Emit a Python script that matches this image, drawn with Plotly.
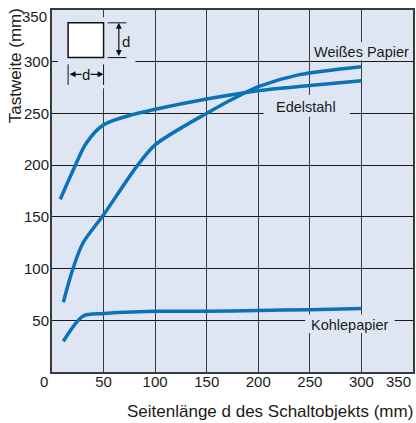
import plotly.graph_objects as go

# ---- data ----
edel_x = [8, 22, 33, 50, 75, 100, 150, 200, 250, 300]
edel_y = [167, 198.5, 221, 239, 248, 254, 264, 272, 277, 281.7]

weiss_x = [11, 20, 30, 50, 82, 100, 150, 189, 200, 240, 300]
weiss_y = [67.5, 99, 124.7, 152, 198.6, 219.6, 250.2, 271, 276, 287.5, 295.2]

kohle_x = [11, 30, 50, 100, 150, 200, 250, 300]
kohle_y = [29.7, 53.9, 56.5, 58.7, 58.7, 59.4, 60.3, 61.3]

x_ticks = [50, 100, 150, 200, 250, 300]
y_ticks = [50, 100, 150, 200, 250, 300]

BG = "#dfe6f3"
BLUE = "#0b72ba"
TXT = "#1a1a1a"
FONT = "Liberation Sans, Arial, Helvetica, sans-serif"

fig = go.Figure()
for xs, ys in [(edel_x, edel_y), (weiss_x, weiss_y), (kohle_x, kohle_y)]:
    fig.add_trace(go.Scatter(x=xs, y=ys, mode="lines",
                             line=dict(color=BLUE, width=3.5, shape="spline", smoothing=0.8),
                             showlegend=False, hoverinfo="skip"))

shapes = []
# masks hiding gridlines (between gridlines and traces)
for x0, x1, y0, y1 in [(5.7, 80.9, 274.4, 343.1),
                       (205.2, 288.8, 246.8, 267.7),
                       (245.5, 332.2, 37.8, 55.5),
                       (254.4, 347, 301.5, 319)]:
    shapes.append(dict(type="rect", xref="x", yref="y", x0=x0, x1=x1, y0=y0, y1=y1,
                       fillcolor=BG, line=dict(width=0), layer="between"))
# inset square
shapes.append(dict(type="rect", xref="x", yref="y", x0=15.6, x1=50, y0=304, y1=337.6,
                   fillcolor="white", line=dict(color="#111", width=1.5), layer="above"))
# extension lines for vertical dimension
for yy in [304, 337.6]:
    shapes.append(dict(type="line", xref="x", yref="y", x0=53.9, x1=72.2, y0=yy, y1=yy,
                       line=dict(color="#111", width=1), layer="above"))
# end ticks for horizontal dimension
for xx in [15.6, 50]:
    shapes.append(dict(type="line", xref="x", yref="y", x0=xx, x1=xx, y0=277.5, y1=297.5,
                       line=dict(color="#111", width=1), layer="above"))

annotations = []
# vertical double arrow
annotations.append(dict(x=64.8, y=337.6, ax=64.8, ay=304, xref="x", yref="y", axref="x", ayref="y",
                        text="", showarrow=True, arrowhead=2, arrowside="end+start",
                        arrowsize=1, arrowwidth=1.2, arrowcolor="#111", standoff=0, startstandoff=0))
# horizontal double arrow
annotations.append(dict(x=50, y=287.8, ax=15.6, ay=287.8, xref="x", yref="y", axref="x", ayref="y",
                        text="", showarrow=True, arrowhead=2, arrowside="end+start",
                        arrowsize=1, arrowwidth=1.2, arrowcolor="#111", standoff=0, startstandoff=0))
annotations.append(dict(x=33.0, y=287.8, xref="x", yref="y", text="d", showarrow=False,
                        font=dict(size=15, color=TXT, family=FONT), bgcolor=BG, borderpad=0))
annotations.append(dict(x=71.5, y=319.5, xref="x", yref="y", text="d", showarrow=False,
                        font=dict(size=15, color=TXT, family=FONT)))
# series labels
for txt, xx, yy in [("Weißes Papier", 300.1, 309.7),
                    ("Edelstahl", 246.5, 256),
                    ("Kohlepapier", 288.9, 45.2)]:
    annotations.append(dict(x=xx, y=yy, xref="x", yref="y", text=txt, showarrow=False,
                            font=dict(size=14.5, color=TXT, family=FONT)))
# origin label, x 350 label and y 350 label (paper coords)
tick_font = dict(size=15, color=TXT, family=FONT)
annotations.append(dict(x=-0.022, y=-0.0254, xref="paper", yref="paper", text="0",
                        showarrow=False, xanchor="center", yanchor="middle", font=tick_font))
annotations.append(dict(x=1.0, y=-0.0254, xref="paper", yref="paper", text="350",
                        showarrow=False, xanchor="right", yanchor="middle", font=tick_font))
annotations.append(dict(x=-0.007, y=0.981, xref="paper", yref="paper", text="350",
                        showarrow=False, xanchor="right", yanchor="middle", font=tick_font))
# axis titles
annotations.append(dict(x=-0.102, y=0.845, xref="paper", yref="paper", text="Tastweite (mm)",
                        textangle=-90, showarrow=False, xanchor="center", yanchor="middle",
                        font=dict(size=17, color=TXT, family=FONT)))
annotations.append(dict(x=0.603, y=-0.108, xref="paper", yref="paper",
                        text="Seitenlänge d des Schaltobjekts (mm)", showarrow=False,
                        xanchor="center", yanchor="middle",
                        font=dict(size=17, color=TXT, family=FONT)))

fig.update_layout(
    width=416, height=423,
    margin=dict(l=52, r=1, t=10, b=50.5),
    paper_bgcolor="white", plot_bgcolor=BG,
    font=dict(family=FONT, color=TXT, size=15),
    shapes=shapes, annotations=annotations,
    showlegend=False,
)
fig.update_xaxes(range=[0, 350], tickvals=x_ticks, ticktext=[str(v) for v in x_ticks],
                 showgrid=True, gridcolor="#3a3a3a", gridwidth=1, zeroline=False,
                 showline=True, linecolor="#3a3a3a", linewidth=2, mirror=True,
                 ticks="", ticklabelstandoff=-5, tickfont=tick_font)
fig.update_yaxes(range=[0, 350], tickvals=y_ticks, ticktext=[str(v) for v in y_ticks],
                 showgrid=True, gridcolor="#1a1a1a", gridwidth=1, zeroline=False,
                 showline=True, linecolor="#3a3a3a", linewidth=2, mirror=True,
                 ticks="", ticklabelstandoff=-2, tickfont=tick_font)

fig.write_html("out.html", config={"displayModeBar": False, "staticPlot": True},
               post_script="document.body.style.margin='0';document.body.style.padding='0';"
                           "document.body.style.overflow='hidden';")
